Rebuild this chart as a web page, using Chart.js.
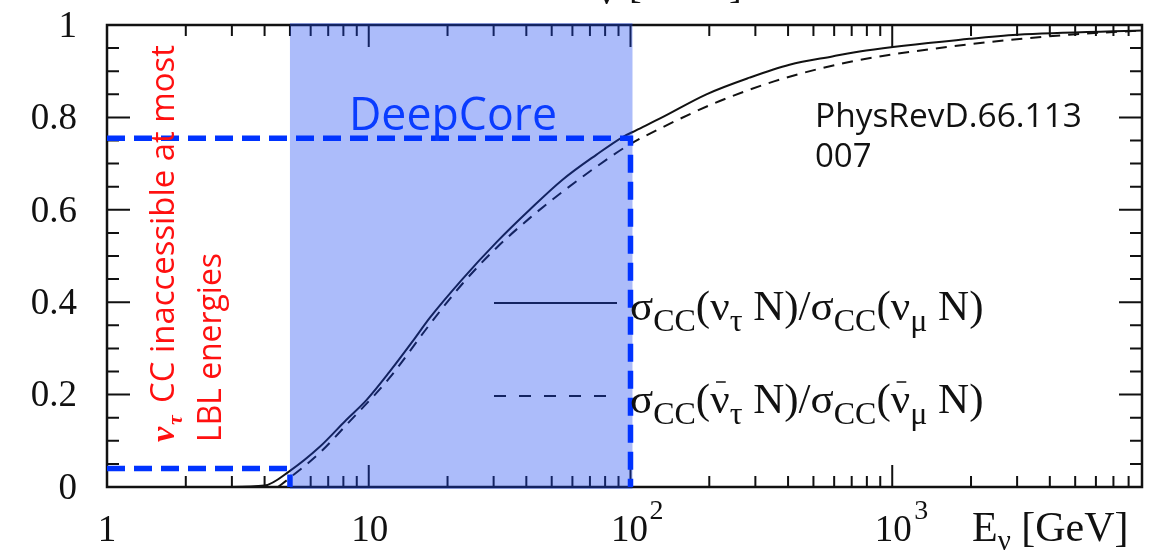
<!DOCTYPE html>
<html>
<head>
<meta charset="utf-8">
<script src="https://cdn.jsdelivr.net/npm/chart.js@4/dist/chart.umd.min.js"></script>
<style>
  html, body { margin: 0; padding: 0; background: #fff; }
  #wrap { width: 1153px; height: 556px; position: relative; }
</style>
</head>
<body>
<div id="wrap"><canvas id="ratioChart"></canvas></div>
<script>
// energies in GeV, ratio sigma_CC(nu_tau N)/sigma_CC(nu_mu N)
var nuEnergy = [2.5, 3, 4, 5, 6.5, 8.2, 9.8, 12, 14.7, 17.1, 22.8, 30.8, 41.2, 55, 74, 93, 105, 132, 195, 285, 405, 590, 795, 1970, 3000, 9000];
var nuRatio  = [0, 0, 0.003, 0.035, 0.087, 0.145, 0.188, 0.249, 0.315, 0.366, 0.45, 0.53, 0.60, 0.665, 0.719, 0.757, 0.772, 0.800, 0.850, 0.886, 0.914, 0.932, 0.945, 0.970, 0.979, 0.988];

// antineutrino ratio
var nubarEnergy = [4.5, 5, 6.5, 8.2, 12, 17, 22.8, 30.8, 41.2, 55, 74, 99, 132, 200, 285, 405, 685, 1650, 4740, 9000];
var nubarRatio  = [0, 0.02, 0.074, 0.134, 0.236, 0.35, 0.44, 0.518, 0.582, 0.639, 0.693, 0.741, 0.778, 0.826, 0.86, 0.888, 0.92, 0.953, 0.979, 0.988];

// DeepCore band and LBL limits
var deepCoreRange = [5, 100];
var deepCoreLevel = 0.755;
var lblLevel = 0.04;

var xMin = 1, xMax = 9000;
var yTicks = [0, 0.2, 0.4, 0.6, 0.8, 1];
var yLabels = ['0', '0.2', '0.4', '0.6', '0.8', '1'];
var yMinor = [0.05, 0.1, 0.15, 0.25, 0.3, 0.35, 0.45, 0.5, 0.55, 0.65, 0.7, 0.75, 0.85, 0.9, 0.95];
var xMajor = [1, 10, 100, 1000];
var xMinor = [2, 3, 4, 5, 6, 7, 8, 9, 20, 30, 40, 50, 60, 70, 80, 90,
              200, 300, 400, 500, 600, 700, 800, 900, 2000, 3000, 4000, 5000, 6000, 7000, 8000, 9000];

function pts(xs, ys) {
    return xs.map(function (x, i) { return {x: x, y: ys[i]}; });
}

var SERIF = '"Liberation Serif", "DejaVu Serif", serif';
var SANS = '"Open Sans", "Noto Sans", sans-serif';
var INK = '#111';

function fitText(ctx, s, x, y, width) {
    var w = ctx.measureText(s).width;
    ctx.save();
    ctx.translate(x, y);
    ctx.scale(width / w, 1);
    ctx.fillText(s, 0, 0);
    ctx.restore();
}

function drawRun(ctx, x, y, parts) {
    parts.forEach(function (p) {
        ctx.font = p.f;
        var w = ctx.measureText(p.t).width;
        ctx.fillText(p.t, x, y + (p.dy || 0));
        if (p.bar) {
            ctx.save();
            ctx.lineWidth = 1.5;
            ctx.strokeStyle = INK;
            ctx.beginPath();
            ctx.moveTo(x + w * 0.3, y - 31);
            ctx.lineTo(x + w * 0.8, y - 31);
            ctx.stroke();
            ctx.restore();
        }
        x += w;
    });
}

var framePlugin = {
    id: 'frame',
    beforeDatasetsDraw: function (chart) {
        var ctx = chart.ctx, a = chart.chartArea;
        var xs = chart.scales.x, ys = chart.scales.y;
        ctx.save();
        ctx.strokeStyle = INK;
        ctx.lineWidth = 2;
        ctx.beginPath();
        yTicks.forEach(function (v) {
            var p = ys.getPixelForValue(v);
            ctx.moveTo(a.left, p); ctx.lineTo(a.left + 23, p);
            ctx.moveTo(a.right, p); ctx.lineTo(a.right - 23, p);
        });
        yMinor.forEach(function (v) {
            var p = ys.getPixelForValue(v);
            ctx.moveTo(a.left, p); ctx.lineTo(a.left + 12, p);
            ctx.moveTo(a.right, p); ctx.lineTo(a.right - 12, p);
        });
        xMajor.forEach(function (v) {
            var p = xs.getPixelForValue(v);
            ctx.moveTo(p, a.bottom); ctx.lineTo(p, a.bottom - 22);
            ctx.moveTo(p, a.top); ctx.lineTo(p, a.top + 22);
        });
        xMinor.forEach(function (v) {
            var p = xs.getPixelForValue(v);
            ctx.moveTo(p, a.bottom); ctx.lineTo(p, a.bottom - 11);
            ctx.moveTo(p, a.top); ctx.lineTo(p, a.top + 11);
        });
        ctx.stroke();
        ctx.lineWidth = 2.5;
        ctx.strokeRect(a.left, a.top, a.right - a.left, a.bottom - a.top);

        // legend samples
        ctx.lineWidth = 2;
        ctx.beginPath();
        ctx.moveTo(494, 303); ctx.lineTo(617, 303);
        ctx.stroke();
        ctx.setLineDash([12, 13]);
        ctx.beginPath();
        ctx.moveTo(494, 396); ctx.lineTo(617, 396);
        ctx.stroke();
        ctx.restore();
    },
    afterDatasetDraw: function (chart, args) {
        if (args.index !== 2) return;
        var ctx = chart.ctx, a = chart.chartArea;
        var xs = chart.scales.x;
        var x0 = xs.getPixelForValue(deepCoreRange[0]);
        var x1 = xs.getPixelForValue(deepCoreRange[1]);
        ctx.save();
        ctx.fillStyle = 'rgba(25, 70, 240, 0.36)';
        ctx.fillRect(x0, a.top - 2, x1 - x0 + 2, a.bottom - a.top + 4);
        ctx.restore();
    },
    afterDraw: function (chart) {
        var ctx = chart.ctx;
        var xs = chart.scales.x, ys = chart.scales.y;
        ctx.save();
        ctx.fillStyle = INK;

        // cut-off title remnants at the top edge
        ctx.font = '38px ' + SERIF;
        ctx.fillText('ν', 598, 4);
        ctx.fillText('[', 629, -2);
        ctx.fillText(']', 729, -2);

        // y tick labels
        ctx.font = '37px ' + SERIF;
        ctx.textAlign = 'right';
        ctx.textBaseline = 'middle';
        yTicks.forEach(function (v, i) {
            ctx.fillText(yLabels[i], 77, ys.getPixelForValue(v) + 2);
        });

        // x tick labels
        ctx.textBaseline = 'alphabetic';
        ctx.textAlign = 'center';
        ctx.fillText('1', xs.getPixelForValue(1), 541);
        ctx.fillText('10', xs.getPixelForValue(10) + 1, 541);
        ctx.fillText('10', xs.getPixelForValue(100) - 1, 541);
        ctx.fillText('10', xs.getPixelForValue(1000) + 1, 541);
        ctx.textAlign = 'left';
        ctx.font = '28px ' + SERIF;
        ctx.fillText('2', xs.getPixelForValue(100) + 19, 519);
        ctx.fillText('3', xs.getPixelForValue(1000) + 22, 519);
        drawRun(ctx, 972, 541, [
            {t: 'E', f: '42px ' + SERIF},
            {t: 'ν', f: '29px ' + SERIF, dy: 9},
            {t: ' [GeV]', f: '42px ' + SERIF}
        ]);

        // legend text
        var M = '43px ' + SERIF, S = '32px ' + SERIF;
        drawRun(ctx, 630, 320, [
            {t: 'σ', f: M}, {t: 'CC', f: S, dy: 11}, {t: '(', f: M}, {t: 'ν', f: M},
            {t: 'τ', f: S, dy: 11}, {t: ' N', f: M}, {t: ')/', f: M},
            {t: 'σ', f: M}, {t: 'CC', f: S, dy: 11}, {t: '(', f: M}, {t: 'ν', f: M},
            {t: 'μ', f: S, dy: 11}, {t: ' N', f: M}, {t: ')', f: M}
        ]);
        drawRun(ctx, 630, 413, [
            {t: 'σ', f: M}, {t: 'CC', f: S, dy: 11}, {t: '(', f: M}, {t: 'ν', f: M, bar: true},
            {t: 'τ', f: S, dy: 11}, {t: ' N', f: M}, {t: ')/', f: M},
            {t: 'σ', f: M}, {t: 'CC', f: S, dy: 11}, {t: '(', f: M}, {t: 'ν', f: M, bar: true},
            {t: 'μ', f: S, dy: 11}, {t: ' N', f: M}, {t: ')', f: M}
        ]);

        // reference note
        ctx.font = '33px ' + SANS;
        fitText(ctx, 'PhysRevD.66.113', 815, 127, 267);
        ctx.fillText('007', 815, 167);

        // DeepCore label
        ctx.fillStyle = '#0a3cff';
        ctx.font = '46px ' + SANS;
        fitText(ctx, 'DeepCore', 349, 130, 208);

        // rotated red note
        ctx.fillStyle = '#ff1010';
        ctx.save();
        ctx.translate(174, 442);
        ctx.rotate(-Math.PI / 2);
        ctx.font = 'italic bold 34px ' + SERIF;
        ctx.fillText('ν', 0, 0);
        ctx.font = 'italic bold 22px ' + SERIF;
        ctx.fillText('τ', 17, 8);
        ctx.font = '33px ' + SANS;
        fitText(ctx, 'CC inaccessible at most', 39, 0, 358);
        ctx.restore();
        ctx.save();
        ctx.translate(221, 442);
        ctx.rotate(-Math.PI / 2);
        ctx.font = '33px ' + SANS;
        fitText(ctx, 'LBL energies', 0, 0, 189);
        ctx.restore();

        ctx.restore();
    }
};

var blueDash = {
    borderColor: '#0033ff',
    borderWidth: 5.5,
    borderDash: [18, 9],
    pointRadius: 0,
    fill: false,
    tension: 0,
    clip: false
};

new Chart(document.getElementById('ratioChart'), {
    type: 'line',
    data: {
        datasets: [
            Object.assign({
                label: 'DeepCore',
                data: [{x: xMin, y: deepCoreLevel}, {x: deepCoreRange[1], y: deepCoreLevel}, {x: deepCoreRange[1], y: 0}]
            }, blueDash),
            Object.assign({
                label: 'LBL',
                data: [{x: xMin, y: lblLevel}, {x: deepCoreRange[0], y: lblLevel}, {x: deepCoreRange[0], y: 0}]
            }, blueDash),
            {
                label: 'nu',
                data: pts(nuEnergy, nuRatio),
                borderColor: INK,
                borderWidth: 2,
                pointRadius: 0,
                cubicInterpolationMode: 'monotone',
                fill: false
            },
            {
                label: 'nubar',
                data: pts(nubarEnergy, nubarRatio),
                borderColor: INK,
                borderWidth: 2,
                borderDash: [11, 8],
                pointRadius: 0,
                cubicInterpolationMode: 'monotone',
                fill: false
            }
        ]
    },
    options: {
        responsive: true,
        maintainAspectRatio: false,
        animation: false,
        layout: { padding: { left: 107, right: 11, top: 25, bottom: 69 } },
        plugins: { legend: { display: false }, tooltip: { enabled: false } },
        scales: {
            x: { type: 'logarithmic', min: xMin, max: xMax, display: false },
            y: { type: 'linear', min: 0, max: 1, display: false }
        }
    },
    plugins: [framePlugin]
});
</script>
</body>
</html>
